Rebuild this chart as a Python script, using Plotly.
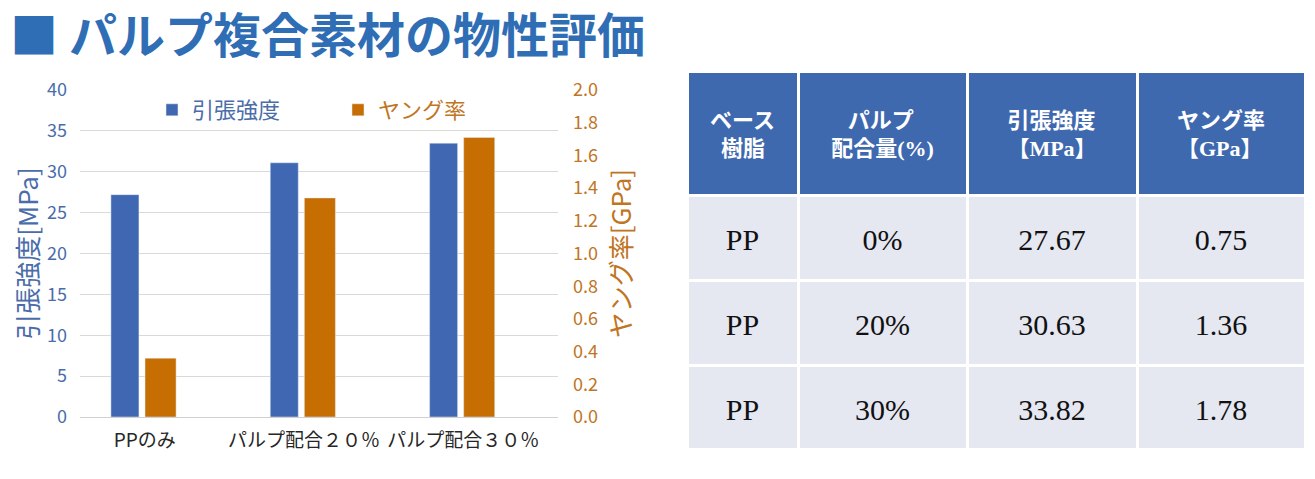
import plotly.graph_objects as go

# chart values
categories = ['PPのみ', 'パルプ配合２０％', 'パルプ配合３０％']
tensile_chart = [27.2, 31.1, 33.5]
young_chart = [0.36, 1.34, 1.71]

# table values
table_header = [['ベース', '樹脂'], ['パルプ', '配合量(%)'], ['引張強度', '【MPa】'], ['ヤング率', '【GPa】']]
base_resin = ['PP', 'PP', 'PP']
pulp_ratio = ['0%', '20%', '30%']
tensile_table = ['27.67', '30.63', '33.82']
young_table = ['0.75', '1.36', '1.78']

# the page puts the figure 8px in from the top-left corner,
# so the figure is 8px smaller and positions are shifted by that
PAGE_W, PAGE_H = 1315, 479
OFF = 8
W, H = PAGE_W - OFF, PAGE_H - OFF

BLUE = '#4068B2'
ORANGE = '#C66E02'
BLUE_TXT = '#4A6DAA'
ORANGE_TXT = '#C0751F'
TITLE_BLUE = '#2F6EB5'
JP = 'Noto Sans CJK JP'
SERIF = 'Liberation Serif, Noto Sans CJK JP'
NB = '\u00a0'

# table lines are left-aligned inside the block, so the shorter
# header line gets a few no-break spaces in front of it
HEADER_PAD = [(0, 2), (3, 0), (0, 0), (0, 0)]


def px_x(v):
    return (v - OFF) / W


def px_y(v):
    return 1 - (v - OFF) / H


fig = go.Figure()

fig.add_trace(go.Bar(
    x=categories, y=tensile_chart, name='引張強度',
    marker_color=BLUE, width=0.176, offset=-0.306,
    yaxis='y', legend='legend', showlegend=True
))
fig.add_trace(go.Bar(
    x=categories, y=young_chart, name='ヤング率',
    marker_color=ORANGE, width=0.195, offset=-0.092,
    yaxis='y2', legend='legend2', showlegend=True
))


# a blank first line pushes the text down towards the middle of the cell
def centered(col):
    return [NB + "<br><span style='font-size:30px'>" + v + "</span>" for v in col]


header_text = []
for (l1, l2), (p1, p2) in zip(table_header, HEADER_PAD):
    header_text.append(NB + '<br>' + NB * p1 + l1 + '<br>' + NB * p2 + l2)

fig.add_trace(go.Table(
    domain=dict(x=[px_x(687), px_x(1305)], y=[px_y(448), px_y(71)]),
    columnwidth=[111, 169, 170, 168],
    header=dict(
        values=header_text,
        fill_color='#3F69AF',
        line=dict(color='white', width=3),
        align='center',
        height=124,
        font=dict(family=SERIF, size=22, color='white', weight='bold'),
    ),
    cells=dict(
        values=[centered(base_resin), centered(pulp_ratio),
                centered(tensile_table), centered(young_table)],
        fill_color='#E5E7F1',
        line=dict(color='white', width=3),
        align='center',
        height=85,
        font=dict(family=SERIF, size=21.5, color='#111111'),
    ),
))

fig.update_layout(
    width=W, height=H,
    margin=dict(l=0, r=0, t=0, b=0, autoexpand=False),
    paper_bgcolor='white', plot_bgcolor='white',
    barmode='overlay',
    showlegend=True,
    font=dict(family=JP),
    xaxis=dict(
        domain=[px_x(80), px_x(558)], automargin=False,
        showline=True, linecolor='#D0D0D0', linewidth=1,
        tickfont=dict(size=19, color='#262626'),
        ticklabelstandoff=6, ticklabelshift=-15,
    ),
    yaxis=dict(
        domain=[px_y(417), px_y(90)], automargin=False,
        range=[0, 40], dtick=5,
        showgrid=True, gridcolor='#D9D9D9', zeroline=False,
        tickfont=dict(size=18, color=BLUE_TXT),
        ticklabelstandoff=12,
        title=dict(text='引張強度[MPa]', font=dict(size=26, color=BLUE_TXT)),
    ),
    yaxis2=dict(
        overlaying='y', side='right', anchor='x', automargin=False,
        range=[0, 2], dtick=0.2, tickformat='.1f',
        showgrid=False, zeroline=False,
        tickfont=dict(size=18, color=ORANGE_TXT),
        ticklabelstandoff=14,
        title=dict(text='ヤング率[GPa]', font=dict(size=26, color=ORANGE_TXT)),
    ),
    legend=dict(
        x=px_x(152), y=px_y(110), xanchor='left', yanchor='middle',
        orientation='h', bgcolor='rgba(0,0,0,0)',
        font=dict(size=22, color=BLUE_TXT),
    ),
    legend2=dict(
        x=px_x(338), y=px_y(110), xanchor='left', yanchor='middle',
        orientation='h', bgcolor='rgba(0,0,0,0)',
        font=dict(size=22, color=ORANGE_TXT),
    ),
    annotations=[dict(
        text='■ パルプ複合素材の物性評価',
        x=0, y=px_y(32), xref='paper', yref='paper',
        xanchor='left', yanchor='middle', showarrow=False,
        font=dict(family=JP, size=48, color=TITLE_BLUE, weight='bold'),
    )],
)

fig.write_html('out.html')
